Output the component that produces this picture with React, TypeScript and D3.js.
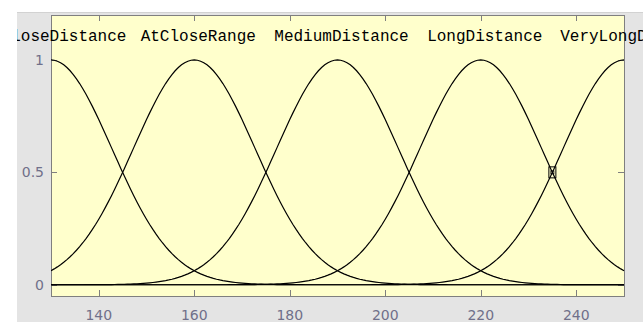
import React from "react";
import * as d3 from "d3";

// Gaussian membership functions: names, centres and shared spread
const mfNames = ["CloseDistance", "AtCloseRange", "MediumDistance", "LongDistance", "VeryLongDistance"];
const mfCenters = [130, 160, 190, 220, 250];
const mfSigmas = [12.74, 12.74, 12.74, 12.74, 12.74];
const xDomain = [130, 250];
const yDomain = [-0.05, 1.2];
const xTicks = [140, 160, 180, 200, 220, 240];
const yTicks = [0, 0.5, 1];
const marker = { x: 235, y: 0.5 };

const W = 643;
const H = 322;
const fig = { x: 17, y: 12 };
const plot = { left: 51, right: 624, top: 15, bottom: 296 };

const gaussmf = (x: number, sigma: number, c: number) =>
  Math.exp(-((x - c) * (x - c)) / (2 * sigma * sigma));

export default function App() {
  const x = d3.scaleLinear().domain(xDomain).range([plot.left, plot.right]);
  const y = d3.scaleLinear().domain(yDomain).range([plot.bottom, plot.top]);
  const samples = d3.range(181).map((i) => xDomain[0] + (i * (xDomain[1] - xDomain[0])) / 180);
  const line = d3
    .line<[number, number]>()
    .x((d) => x(d[0]))
    .y((d) => y(d[1]));

  const tickColor = "#7f7f7f";
  const labelColor = "#70708a";

  // labels sit just right of each peak; those on the axis limits are nudged further in
  const labelX = (c: number) => {
    const edge = c <= xDomain[0] || c >= xDomain[1];
    return x(c) + 4 + (edge ? 9 : 0);
  };

  return (
    <svg
      width={W}
      height={H}
      style={{ position: "absolute", left: 0, top: 0, display: "block" }}
    >
      <defs>
        <clipPath id="figClip">
          <rect x={fig.x} y={fig.y} width={W - fig.x} height={H - fig.y} />
        </clipPath>
        <clipPath id="axClip">
          <rect x={plot.left} y={plot.top} width={plot.right - plot.left + 1} height={plot.bottom - plot.top} />
        </clipPath>
      </defs>
      <rect x={0} y={0} width={W} height={H} fill="#ffffff" />
      <rect x={fig.x} y={fig.y} width={W - fig.x} height={H - fig.y} fill="#e4e4e4" />
      <line x1={fig.x} x2={W} y1={fig.y + 0.5} y2={fig.y + 0.5} stroke="#d2d2d2" />

      <rect
        x={plot.left + 0.5}
        y={plot.top + 0.5}
        width={plot.right - plot.left}
        height={plot.bottom - plot.top}
        fill="#ffffcc"
        stroke={tickColor}
        strokeWidth={1}
      />

      {xTicks.map((t) => (
        <g key={"xt" + t}>
          <line x1={Math.round(x(t)) + 0.5} x2={Math.round(x(t)) + 0.5} y1={plot.bottom} y2={plot.bottom - 6} stroke={tickColor} />
          <line x1={Math.round(x(t)) + 0.5} x2={Math.round(x(t)) + 0.5} y1={plot.top} y2={plot.top + 6} stroke={tickColor} />
          <text
            x={x(t)}
            y={plot.bottom + 24}
            textAnchor="middle"
            fontFamily="'DejaVu Sans', sans-serif"
            fontSize={14}
            fill={labelColor}
          >
            {t}
          </text>
        </g>
      ))}

      {yTicks.map((t) => (
        <g key={"yt" + t}>
          <line x1={plot.left} x2={plot.left + 6} y1={Math.round(y(t)) + 0.5} y2={Math.round(y(t)) + 0.5} stroke={tickColor} />
          <line x1={plot.right} x2={plot.right - 6} y1={Math.round(y(t)) + 0.5} y2={Math.round(y(t)) + 0.5} stroke={tickColor} />
          <text
            x={plot.left - 7}
            y={y(t) + 5}
            textAnchor="end"
            fontFamily="'DejaVu Sans', sans-serif"
            fontSize={14}
            fill={labelColor}
          >
            {t}
          </text>
        </g>
      ))}

      <g clipPath="url(#axClip)">
        {mfCenters.map((c, i) => (
          <path
            key={"mf" + i}
            d={line(samples.map((s) => [s, gaussmf(s, mfSigmas[i], c)] as [number, number])) || ""}
            fill="none"
            stroke="#000"
            strokeWidth={1.2}
          />
        ))}
      </g>

      <g>
        <rect x={x(marker.x) - 3.5} y={y(marker.y) - 5.5} width={7} height={11} fill="none" stroke="#000" strokeWidth={1} />
        <rect x={x(marker.x) - 1.5} y={y(marker.y) - 1.5} width={3} height={3} fill="none" stroke="#000" strokeWidth={0.8} />
      </g>

      <g clipPath="url(#figClip)">
        {mfNames.map((n, i) => (
          <text
            key={"lab" + i}
            x={labelX(mfCenters[i])}
            y={y(1) - 19}
            textAnchor="middle"
            fontFamily="'Liberation Mono', 'Courier New', monospace"
            fontSize={16}
            fill="#000"
          >
            {n}
          </text>
        ))}
      </g>
    </svg>
  );
}
